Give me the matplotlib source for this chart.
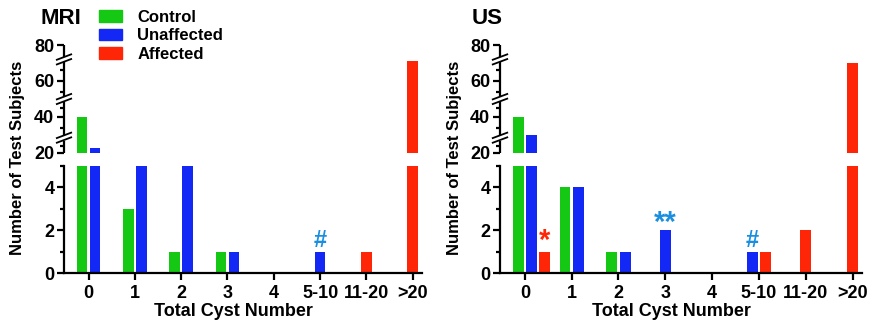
import numpy as np
import matplotlib
matplotlib.use('Agg')
import matplotlib.pyplot as plt
from matplotlib.patches import Patch

plt.rcParams['font.family'] = ['Liberation Sans', 'DejaVu Sans']
plt.rcParams['font.weight'] = 'bold'

categories = ['0', '1', '2', '3', '4', '5-10', '11-20', '>20']
series_names = ['Control', 'Unaffected', 'Affected']
colors = ['#14c814', '#1428f5', '#ff2608']

# values per category (bars >5 and <20 are clipped anyway)
mri_control = [40, 3, 1, 1, 0, 0, 0, 0]
mri_unaffected = [23, 12, 9, 1, 0, 1, 0, 0]
mri_affected = [0, 0, 0, 0, 0, 0, 1, 71]

us_control = [40, 4, 1, 0, 0, 0, 0, 0]
us_unaffected = [30, 4, 1, 2, 0, 1, 0, 0]
us_affected = [1, 0, 0, 0, 0, 1, 2, 70]

# (category index, series index, symbol)
mri_marks = [(5, 1, '#')]
us_marks = [(0, 2, '*'), (3, 1, '**'), (5, 1, '#')]

W, H = 869, 322
fig = plt.figure(figsize=(W / 100, H / 100), dpi=100)

bw = 0.23
slot = 0.285
lw = 1.6


def fx(px):
    return px / W


def fy(py):
    return 1 - py / H


def draw_panel(left_px, right_px, data, marks, title, title_x, ylab_x):
    lo_ax = fig.add_axes([fx(left_px), fy(273), fx(right_px - left_px), (273 - 166) / H])
    up_ax = fig.add_axes([fx(left_px), fy(153), fx(right_px - left_px), (153 - 45) / H])
    lo_ax.set_ylim(0, 5)
    up_ax.set_ylim(20, 80)
    for ax in (lo_ax, up_ax):
        ax.set_xlim(-0.53, 7.2)
        ax.spines['top'].set_visible(False)
        ax.spines['right'].set_visible(False)
        ax.tick_params(axis='y', direction='out', length=5, width=lw, labelsize=13, pad=2)
        ax.tick_params(axis='y', which='minor', length=3, width=lw)
        ax.patch.set_alpha(0)

    tops = {}
    for i in range(len(categories)):
        present = [s for s in range(3) if data[s][i] > 0]
        if len(present) == 1:
            offs = [0.0]
        else:
            offs = [(-0.5 + k) * slot for k in range(len(present))]
        for s, o in zip(present, offs):
            v = data[s][i]
            lo_ax.bar(i + o, v, width=bw, color=colors[s], edgecolor='none')
            if v > 20:
                up_ax.bar(i + o, v - 20, bottom=20, width=bw, color=colors[s], edgecolor='none')
            tops[(i, s)] = (i + o, v)

    lo_ax.spines['left'].set_linewidth(lw)
    lo_ax.spines['bottom'].set_linewidth(lw)
    lo_ax.set_yticks([0, 2, 4])
    lo_ax.set_yticks([1, 3, 5], minor=True)
    lo_ax.set_xticks(range(len(categories)))
    lo_ax.set_xticklabels(categories, fontsize=13)
    lo_ax.tick_params(axis='x', direction='out', length=5, width=lw, pad=4)

    up_ax.spines['bottom'].set_visible(False)
    up_ax.spines['left'].set_visible(False)
    up_ax.set_xticks([])
    up_ax.set_yticks([20, 40, 60, 80])
    up_ax.set_yticks([24, 34, 45, 54, 66], minor=True)

    # left spine of upper part drawn in pieces with break marks
    trans = up_ax.get_yaxis_transform()
    breaks = [28.5, 50, 72]
    gap = 1.6
    edges = [20] + [b for br in breaks for b in (br - gap, br + gap)] + [80]
    for a, b in zip(edges[::2], edges[1::2]):
        up_ax.plot([0, 0], [a, b], color='black', lw=lw, transform=trans, clip_on=False,
                   solid_capstyle='butt')
    dx = 0.02
    for br in breaks:
        for d in (-1.3, 1.3):
            up_ax.plot([-dx, dx], [br + d - 1.5, br + d + 1.5], color='black', lw=1.3,
                       transform=trans, clip_on=False)

    for i, s, sym in marks:
        x, v = tops[(i, s)]
        c = colors[2] if s == 2 else '#1a8fe0'
        if '*' in sym:
            size, off = 21, (8 if len(sym) == 1 else 5)
        else:
            size, off = 17, 8
        lo_ax.annotate(sym, (x, v), xytext=(0, off), textcoords='offset points',
                       color=c, ha='center', va='center', fontsize=size, fontweight='bold')

    fig.text(fx(title_x), fy(18), title, fontsize=16, fontweight='bold', va='center')
    fig.text(fx(ylab_x), fy(158), 'Number of Test Subjects', rotation=90, fontsize=12,
             va='center', ha='center')
    fig.text(fx((left_px + right_px) / 2 - 10), fy(311), 'Total Cyst Number', fontsize=13,
             ha='center', va='center')


draw_panel(64, 422, [mri_control, mri_unaffected, mri_affected], mri_marks, 'MRI', 40, 18)
draw_panel(500, 862, [us_control, us_unaffected, us_affected], us_marks, 'US', 472, 455)

handles = [Patch(color=c, label=n) for c, n in zip(colors, series_names)]
fig.legend(handles=handles, loc='upper left', bbox_to_anchor=(fx(99), fy(10)), frameon=False,
           fontsize=12, handlelength=1.4, handleheight=0.7, handletextpad=0.9,
           labelspacing=0.2, borderaxespad=0, borderpad=0)

fig.savefig('out.png', dpi=100)
